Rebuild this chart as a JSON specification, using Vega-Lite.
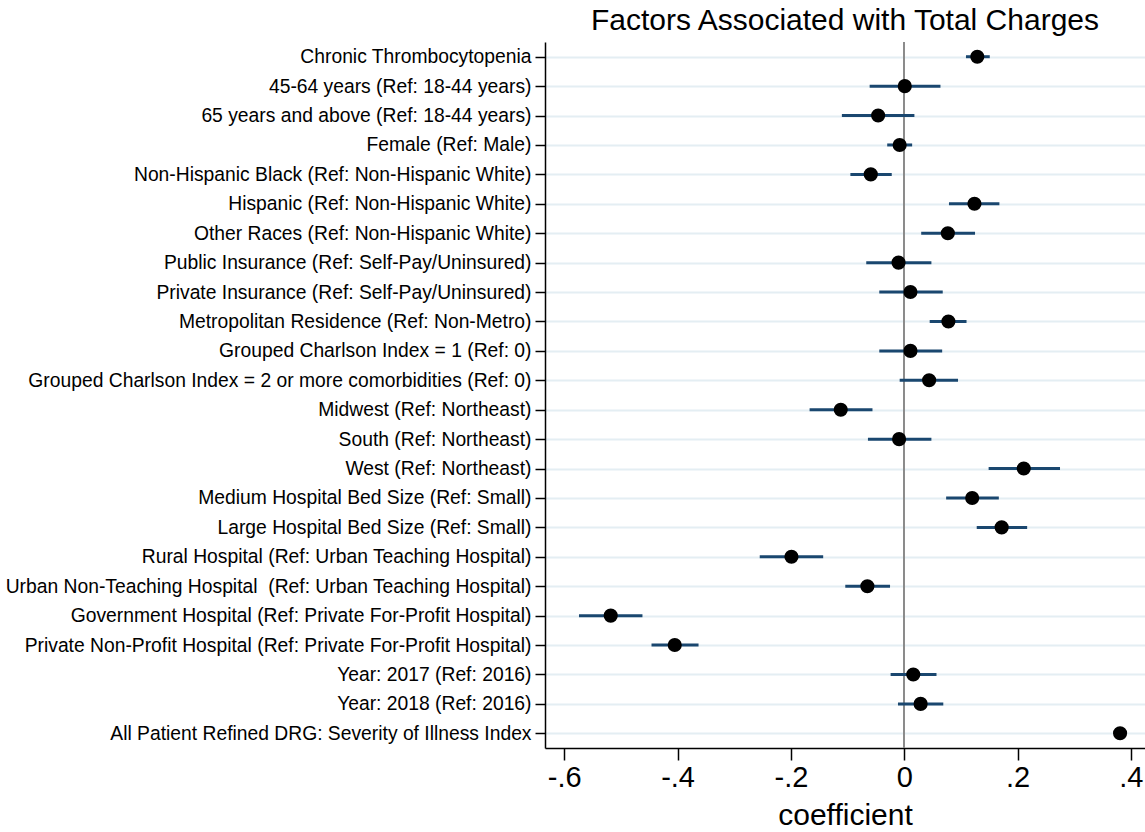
{
  "$schema": "https://vega.github.io/schema/vega-lite/v6.json",
  "autosize": {"type": "none"},
  "padding": {"left": 545, "top": 42, "right": 0, "bottom": 84},
  "width": 600,
  "height": 706,
  "background": "white",
  "config": {
    "view": {"stroke": null},
    "font": "Liberation Sans"
  },
  "title": {
    "text": "Factors Associated with Total Charges",
    "fontSize": 30,
    "fontWeight": "normal",
    "color": "black",
    "font": "Liberation Sans",
    "anchor": "middle",
    "offset": 5
  },
  "data": {
    "values": [
      {"order": 1, "label": "Chronic Thrombocytopenia", "coef": 0.129, "lo": 0.109, "hi": 0.151},
      {"order": 2, "label": "45-64 years (Ref: 18-44 years)", "coef": 0.001, "lo": -0.061, "hi": 0.064},
      {"order": 3, "label": "65 years and above (Ref: 18-44 years)", "coef": -0.046, "lo": -0.110, "hi": 0.018},
      {"order": 4, "label": "Female (Ref: Male)", "coef": -0.008, "lo": -0.030, "hi": 0.014},
      {"order": 5, "label": "Non-Hispanic Black (Ref: Non-Hispanic White)", "coef": -0.059, "lo": -0.095, "hi": -0.022},
      {"order": 6, "label": "Hispanic (Ref: Non-Hispanic White)", "coef": 0.124, "lo": 0.079, "hi": 0.168},
      {"order": 7, "label": "Other Races (Ref: Non-Hispanic White)", "coef": 0.077, "lo": 0.030, "hi": 0.125},
      {"order": 8, "label": "Public Insurance (Ref: Self-Pay/Uninsured)", "coef": -0.010, "lo": -0.067, "hi": 0.048},
      {"order": 9, "label": "Private Insurance (Ref: Self-Pay/Uninsured)", "coef": 0.011, "lo": -0.044, "hi": 0.068},
      {"order": 10, "label": "Metropolitan Residence (Ref: Non-Metro)", "coef": 0.078, "lo": 0.045, "hi": 0.110},
      {"order": 11, "label": "Grouped Charlson Index = 1 (Ref: 0)", "coef": 0.011, "lo": -0.044, "hi": 0.067},
      {"order": 12, "label": "Grouped Charlson Index = 2 or more comorbidities (Ref: 0)", "coef": 0.044, "lo": -0.008, "hi": 0.095},
      {"order": 13, "label": "Midwest (Ref: Northeast)", "coef": -0.112, "lo": -0.167, "hi": -0.056},
      {"order": 14, "label": "South (Ref: Northeast)", "coef": -0.009, "lo": -0.064, "hi": 0.048},
      {"order": 15, "label": "West (Ref: Northeast)", "coef": 0.211, "lo": 0.149, "hi": 0.275},
      {"order": 16, "label": "Medium Hospital Bed Size (Ref: Small)", "coef": 0.120, "lo": 0.074, "hi": 0.167},
      {"order": 17, "label": "Large Hospital Bed Size (Ref: Small)", "coef": 0.172, "lo": 0.128, "hi": 0.217},
      {"order": 18, "label": "Rural Hospital (Ref: Urban Teaching Hospital)", "coef": -0.199, "lo": -0.255, "hi": -0.143},
      {"order": 19, "label": "Urban Non-Teaching Hospital\u00a0 (Ref: Urban Teaching Hospital)", "coef": -0.065, "lo": -0.104, "hi": -0.025},
      {"order": 20, "label": "Government Hospital (Ref: Private For-Profit Hospital)", "coef": -0.518, "lo": -0.574, "hi": -0.462},
      {"order": 21, "label": "Private Non-Profit Hospital (Ref: Private For-Profit Hospital)", "coef": -0.405, "lo": -0.446, "hi": -0.363},
      {"order": 22, "label": "Year: 2017 (Ref: 2016)", "coef": 0.016, "lo": -0.024, "hi": 0.057},
      {"order": 23, "label": "Year: 2018 (Ref: 2016)", "coef": 0.029, "lo": -0.011, "hi": 0.069},
      {"order": 24, "label": "All Patient Refined DRG: Severity of Illness Index", "coef": 0.381, "lo": 0.377, "hi": 0.385}
    ]
  },
  "encoding": {
    "y": {
      "field": "label",
      "type": "nominal",
      "sort": {"field": "order", "op": "min", "order": "ascending"},
      "scale": {"type": "point", "padding": 0.5},
      "axis": {
        "title": null,
        "labelFontSize": 19.3,
        "labelColor": "black",
        "labelPadding": 4,
        "labelLimit": 0,
        "tickSize": 10,
        "tickColor": "black",
        "tickWidth": 1.5,
        "domainColor": "black",
        "domainWidth": 1.5,
        "grid": true,
        "gridColor": "#e4eef3",
        "gridWidth": 2
      }
    }
  },
  "layer": [
    {
      "mark": {"type": "rule", "color": "#8c8c8c", "strokeWidth": 1.5},
      "encoding": {
        "x": {"datum": 0, "type": "quantitative"},
        "y": null
      }
    },
    {
      "mark": {"type": "rule", "color": "#1a476f", "strokeWidth": 3},
      "encoding": {
        "x": {
          "field": "lo",
          "type": "quantitative",
          "scale": {"domain": [-0.634, 0.425], "nice": false, "zero": false},
          "axis": {
            "title": "coefficient",
            "titleFontSize": 30,
            "titleFontWeight": "normal",
            "titleColor": "black",
            "titlePadding": 8,
            "values": [-0.6, -0.4, -0.2, 0, 0.2, 0.4],
            "labelExpr": "datum.value == 0 ? '0' : replace(replace(format(datum.value, '.1f'), '0.', '.'), '\u2212', '-')",
            "labelFontSize": 29,
            "labelColor": "black",
            "labelPadding": 3,
            "tickSize": 12,
            "tickColor": "black",
            "tickWidth": 1.5,
            "domainColor": "black",
            "domainWidth": 1.5,
            "grid": false
          }
        },
        "x2": {"field": "hi"}
      }
    },
    {
      "mark": {"type": "circle", "color": "black", "opacity": 1, "size": 200},
      "encoding": {
        "x": {"field": "coef", "type": "quantitative"}
      }
    }
  ]
}
